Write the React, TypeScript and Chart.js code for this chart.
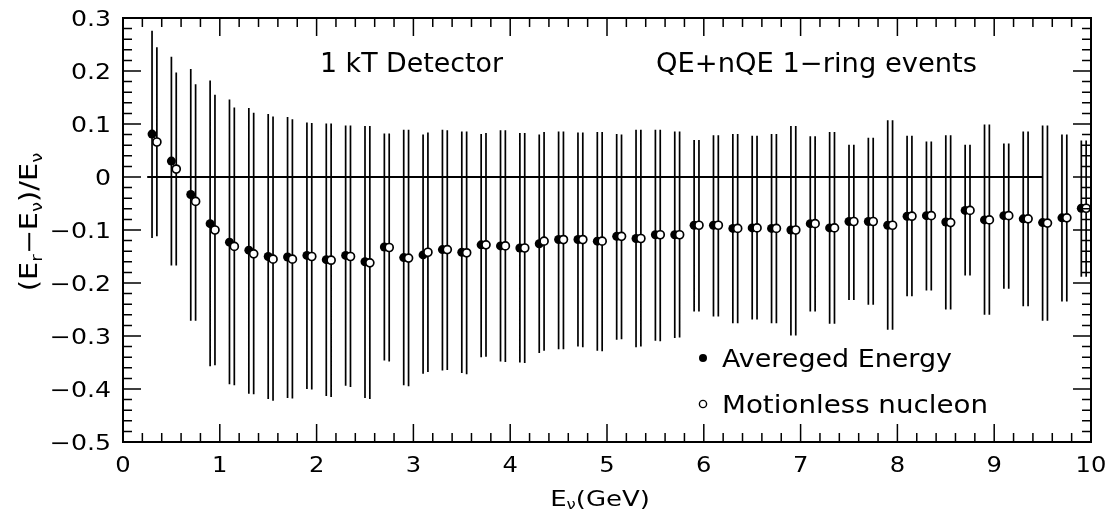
import React, { useEffect, useRef } from "react";
import { Chart, registerables } from "chart.js";
Chart.register(...registerables);

// ---- data ----
const avgX = [0.3,0.5,0.7,0.9,1.1,1.3,1.5,1.7,1.9,2.1,2.3,2.5,2.7,2.9,3.1,3.3,3.5,3.7,3.9,4.1,4.3,4.5,4.7,4.9,5.1,5.3,5.5,5.7,5.9,6.1,6.3,6.5,6.7,6.9,7.1,7.3,7.5,7.7,7.9,8.1,8.3,8.5,8.7,8.9,9.1,9.3,9.5,9.7,9.9];
const avgY = [0.081,0.030,-0.033,-0.088,-0.123,-0.138,-0.150,-0.151,-0.148,-0.156,-0.148,-0.160,-0.132,-0.152,-0.147,-0.137,-0.142,-0.128,-0.130,-0.134,-0.126,-0.118,-0.118,-0.121,-0.112,-0.116,-0.109,-0.109,-0.091,-0.091,-0.097,-0.096,-0.097,-0.100,-0.088,-0.096,-0.084,-0.084,-0.091,-0.074,-0.073,-0.085,-0.063,-0.081,-0.073,-0.079,-0.086,-0.077,-0.059];
const avgHi = [0.276,0.227,0.204,0.182,0.146,0.130,0.119,0.113,0.103,0.101,0.097,0.096,0.082,0.089,0.080,0.089,0.086,0.081,0.088,0.083,0.080,0.086,0.084,0.085,0.081,0.089,0.089,0.086,0.070,0.079,0.081,0.078,0.081,0.096,0.077,0.085,0.061,0.074,0.107,0.078,0.067,0.079,0.061,0.099,0.063,0.086,0.097,0.080,0.069];
const avgLo = [-0.115,-0.167,-0.271,-0.357,-0.391,-0.409,-0.419,-0.417,-0.400,-0.413,-0.394,-0.417,-0.346,-0.393,-0.371,-0.365,-0.370,-0.340,-0.348,-0.350,-0.332,-0.325,-0.320,-0.328,-0.307,-0.321,-0.309,-0.304,-0.254,-0.263,-0.276,-0.269,-0.276,-0.299,-0.254,-0.277,-0.232,-0.241,-0.288,-0.225,-0.214,-0.250,-0.186,-0.260,-0.211,-0.244,-0.271,-0.235,-0.188];

const motX = [0.35,0.55,0.75,0.95,1.15,1.35,1.55,1.75,1.95,2.15,2.35,2.55,2.75,2.95,3.15,3.35,3.55,3.75,3.95,4.15,4.35,4.55,4.75,4.95,5.15,5.35,5.55,5.75,5.95,6.15,6.35,6.55,6.75,6.95,7.15,7.35,7.55,7.75,7.95,8.15,8.35,8.55,8.75,8.95,9.15,9.35,9.55,9.75,9.95];
const motY = [0.066,0.015,-0.046,-0.100,-0.131,-0.145,-0.155,-0.155,-0.150,-0.157,-0.150,-0.162,-0.133,-0.153,-0.142,-0.137,-0.143,-0.128,-0.130,-0.134,-0.121,-0.118,-0.118,-0.121,-0.112,-0.116,-0.109,-0.109,-0.091,-0.091,-0.097,-0.096,-0.097,-0.100,-0.088,-0.096,-0.084,-0.084,-0.091,-0.074,-0.073,-0.086,-0.063,-0.081,-0.073,-0.079,-0.087,-0.077,-0.059];
const motHi = [0.245,0.197,0.175,0.155,0.131,0.121,0.114,0.109,0.102,0.101,0.097,0.096,0.082,0.089,0.084,0.088,0.086,0.083,0.088,0.083,0.085,0.086,0.084,0.085,0.080,0.089,0.089,0.086,0.070,0.079,0.081,0.078,0.081,0.096,0.077,0.085,0.061,0.074,0.107,0.078,0.067,0.079,0.061,0.099,0.063,0.086,0.097,0.080,0.069];
const motLo = [-0.112,-0.167,-0.271,-0.355,-0.393,-0.410,-0.422,-0.418,-0.401,-0.415,-0.396,-0.419,-0.348,-0.395,-0.368,-0.364,-0.372,-0.339,-0.349,-0.351,-0.328,-0.325,-0.321,-0.329,-0.306,-0.320,-0.310,-0.303,-0.254,-0.263,-0.276,-0.269,-0.276,-0.299,-0.254,-0.277,-0.232,-0.241,-0.288,-0.225,-0.214,-0.250,-0.186,-0.260,-0.211,-0.244,-0.271,-0.235,-0.188];

const zeroLineX = [0.25, 9.5];
const zeroLineY = [0, 0];

const xTicks = [0,1,2,3,4,5,6,7,8,9,10];
const xTickLabels = ["0","1","2","3","4","5","6","7","8","9","10"];
const yTicks = [0.3,0.2,0.1,0,-0.1,-0.2,-0.3,-0.4,-0.5];
const yTickLabels = ["0.3","0.2","0.1","0","\u22120.1","\u22120.2","\u22120.3","\u22120.4","\u22120.5"];

const legendLabels = ["Avereged Energy", "Motionless nucleon"];
const titleLeft = "1 kT Detector";
const titleRight = "QE+nQE 1\u2212ring events";

const FONT = '"DejaVu Sans", sans-serif';

function errorSeries(xs: number[], hi: number[], lo: number[]) {
  const out: any[] = [];
  for (let i = 0; i < xs.length; i++) {
    out.push({ x: xs[i], y: hi[i] });
    out.push({ x: xs[i], y: lo[i] });
    out.push({ x: xs[i], y: null });
  }
  return out;
}

function fitText(ctx: CanvasRenderingContext2D, s: string, x: number, y: number, size: number, width: number) {
  ctx.save();
  ctx.font = `${size}px ${FONT}`;
  const w = ctx.measureText(s).width;
  ctx.translate(x, y);
  ctx.scale(width / w, 1);
  ctx.textAlign = "left";
  ctx.textBaseline = "alphabetic";
  ctx.fillStyle = "#000";
  ctx.fillText(s, 0, 0);
  ctx.restore();
}

function richText(ctx: CanvasRenderingContext2D, segs: { t: string; sub?: boolean }[], size: number, subSize: number, subDy: number, sx: number) {
  let total = 0;
  const widths = segs.map((s) => {
    ctx.font = `${s.sub ? subSize : size}px ${FONT}`;
    const w = ctx.measureText(s.t).width;
    total += w;
    return w;
  });
  ctx.save();
  ctx.scale(sx, 1);
  let x = -total / 2;
  ctx.textAlign = "left";
  ctx.textBaseline = "alphabetic";
  ctx.fillStyle = "#000";
  segs.forEach((s, i) => {
    ctx.font = `${s.sub ? subSize : size}px ${FONT}`;
    ctx.fillText(s.t, x, s.sub ? subDy : 0);
    x += widths[i];
  });
  ctx.restore();
}

const decoPlugin = {
  id: "deco",
  afterDatasetsDraw(chart: any) {
    const ctx: CanvasRenderingContext2D = chart.ctx;
    const { left, right, top, bottom } = chart.chartArea;
    const xs = chart.scales.x;
    const ys = chart.scales.y;
    ctx.save();
    ctx.strokeStyle = "#000";
    ctx.lineWidth = 1.5;
    ctx.beginPath();
    for (let k = 0; k <= 50; k++) {
      const px = xs.getPixelForValue(k * 0.2);
      const len = k % 5 === 0 ? 18 : 9;
      ctx.moveTo(px, bottom);
      ctx.lineTo(px, bottom - len);
      ctx.moveTo(px, top);
      ctx.lineTo(px, top + len);
    }
    for (let k = 0; k <= 40; k++) {
      const py = ys.getPixelForValue(-0.5 + k * 0.02);
      const len = k % 5 === 0 ? 18 : 9;
      ctx.moveTo(left, py);
      ctx.lineTo(left + len, py);
      ctx.moveTo(right, py);
      ctx.lineTo(right - len, py);
    }
    ctx.stroke();
    ctx.lineWidth = 2;
    ctx.strokeRect(left, top, right - left, bottom - top);

    // tick labels
    ctx.fillStyle = "#000";
    yTicks.forEach((v, i) => {
      const py = ys.getPixelForValue(v);
      ctx.save();
      ctx.font = `21px ${FONT}`;
      ctx.translate(left - 12, py + 7.5);
      ctx.scale(1.2, 1);
      ctx.textAlign = "right";
      ctx.textBaseline = "alphabetic";
      ctx.fillText(yTickLabels[i], 0, 0);
      ctx.restore();
    });
    xTicks.forEach((v, i) => {
      const px = xs.getPixelForValue(v);
      ctx.save();
      ctx.font = `22px ${FONT}`;
      ctx.translate(px, 472);
      ctx.scale(1.1, 1);
      ctx.textAlign = "center";
      ctx.textBaseline = "alphabetic";
      ctx.fillText(xTickLabels[i], 0, 0);
      ctx.restore();
    });

    // axis titles
    ctx.save();
    ctx.translate(600, 506);
    richText(ctx, [{ t: "E" }, { t: "\u03bd", sub: true }, { t: "(GeV)" }], 22, 14, 3, 1.18);
    ctx.restore();

    ctx.save();
    ctx.translate(37, 222);
    ctx.rotate(-Math.PI / 2);
    richText(
      ctx,
      [{ t: "(E" }, { t: "r", sub: true }, { t: "\u2212E" }, { t: "\u03bd", sub: true }, { t: ")/E" }, { t: "\u03bd", sub: true }],
      24, 15, 5, 1.2
    );
    ctx.restore();

    // in-plot texts
    fitText(ctx, titleLeft, 320, 71.5, 26, 183);
    fitText(ctx, titleRight, 656, 71.5, 26, 321);
    fitText(ctx, legendLabels[0], 722, 366.5, 25, 230);
    fitText(ctx, legendLabels[1], 722, 413, 25, 266);

    // legend markers
    ctx.beginPath();
    ctx.arc(703, 358, 4, 0, Math.PI * 2);
    ctx.fillStyle = "#000";
    ctx.fill();
    ctx.beginPath();
    ctx.arc(703, 404, 3.6, 0, Math.PI * 2);
    ctx.fillStyle = "#fff";
    ctx.fill();
    ctx.lineWidth = 1.4;
    ctx.strokeStyle = "#000";
    ctx.stroke();
    ctx.restore();
  },
};

export default function App() {
  const ref = useRef<HTMLCanvasElement | null>(null);
  useEffect(() => {
    if (!ref.current) return;
    const chart = new Chart(ref.current, {
      type: "line",
      data: {
        datasets: [
          {
            label: "zero",
            data: zeroLineX.map((x, i) => ({ x, y: zeroLineY[i] })),
            borderColor: "#000",
            borderWidth: 2,
            pointRadius: 0,
            order: 5,
            clip: false,
          } as any,
          {
            label: "avgErr",
            data: errorSeries(avgX, avgHi, avgLo),
            borderColor: "#000",
            borderWidth: 1.7,
            pointRadius: 0,
            spanGaps: false,
            order: 4,
            clip: false,
          },
          {
            label: "motErr",
            data: errorSeries(motX, motHi, motLo),
            borderColor: "#000",
            borderWidth: 1.7,
            pointRadius: 0,
            spanGaps: false,
            order: 3,
            clip: false,
          },
          {
            label: legendLabels[0],
            data: avgX.map((x, i) => ({ x, y: avgY[i] })),
            showLine: false,
            pointRadius: 4.5,
            pointBackgroundColor: "#000",
            pointBorderColor: "#000",
            pointBorderWidth: 0,
            order: 2,
            clip: false,
          },
          {
            label: legendLabels[1],
            data: motX.map((x, i) => ({ x, y: motY[i] })),
            showLine: false,
            pointRadius: 4,
            pointBackgroundColor: "#fff",
            pointBorderColor: "#000",
            pointBorderWidth: 1.7,
            order: 1,
            clip: false,
          },
        ],
      },
      options: {
        animation: false,
        responsive: false,
        events: [],
        layout: { padding: { left: 123, right: 22, top: 18, bottom: 76 } },
        plugins: { legend: { display: false }, tooltip: { enabled: false } },
        scales: {
          x: { type: "linear", min: 0, max: 10, display: false },
          y: { type: "linear", min: -0.5, max: 0.3, display: false },
        },
      },
      plugins: [decoPlugin],
    });
    return () => chart.destroy();
  }, []);
  return (
    <div style={{ position: "fixed", left: 0, top: 0, width: 1113, height: 518, background: "#fff" }}>
      <canvas ref={ref} width={1113} height={518} style={{ display: "block", width: 1113, height: 518 }} />
    </div>
  );
}
